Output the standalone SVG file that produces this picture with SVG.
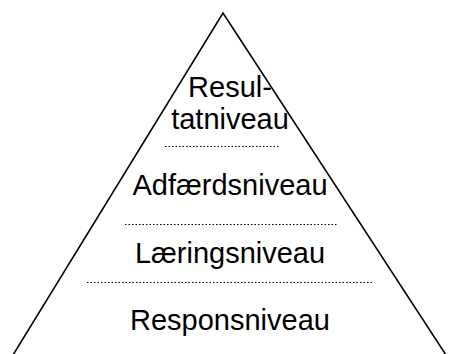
<svg xmlns="http://www.w3.org/2000/svg" width="451" height="354" viewBox="0 0 451 354">
<style>
.lbl{font-family:"Liberation Sans",Arial,sans-serif;font-size:29px;fill:#000;text-anchor:middle}
.dot{stroke:#000;stroke-width:1;stroke-dasharray:1.5 2;fill:none}
.edge{stroke:#000;stroke-width:1.6;fill:none}
</style>
<rect width="451" height="354" fill="#fff"/>
<g id="connectors">
<polyline class="edge" points="13,355 223,13 446,355"/>
<line class="dot" x1="165" y1="146.5" x2="279" y2="146.5"/>
<line class="dot" x1="125" y1="224.5" x2="337" y2="224.5"/>
<line class="dot" x1="87" y1="282.5" x2="374" y2="282.5"/>
</g>
<g id="resultatniveau"><text class="lbl" x="230" y="97">Resul-</text><text class="lbl" x="230" y="129">tatniveau</text></g>
<g id="adfaerdsniveau"><text class="lbl" x="230" y="195">Adfærdsniveau</text></g>
<g id="laeringsniveau"><text class="lbl" x="230" y="263">Læringsniveau</text></g>
<g id="responsniveau"><text class="lbl" x="230" y="330">Responsniveau</text></g>
</svg>
